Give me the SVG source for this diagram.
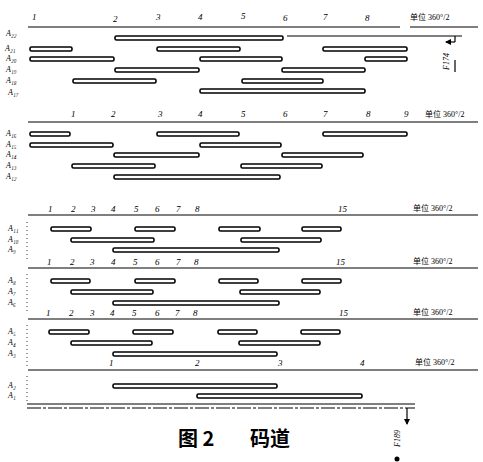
<svg xmlns="http://www.w3.org/2000/svg" width="483" height="462" viewBox="0 0 483 462">
<defs>
<style>
.bar{fill:#fff;stroke:#000;stroke-width:1.6}
.ax{stroke:#000;stroke-width:1.2;fill:none}
.dl{stroke:#000;stroke-width:0.8;stroke-dasharray:1 3;fill:none}
.t{font-family:"Liberation Serif","Noto Sans CJK SC",serif;font-style:italic;font-size:9px;fill:#000}
.lb{font-family:"Liberation Serif","Noto Sans CJK SC",serif;font-style:italic;font-size:8px;fill:#000}
.u{font-family:"Liberation Serif","Noto Sans CJK SC",serif;font-size:8px;fill:#000}
.cap{font-family:"Noto Sans CJK SC",sans-serif;font-weight:bold;font-size:20px;fill:#000}
</style>
<marker id="ah" viewBox="0 0 6 6" refX="5" refY="3" markerWidth="5" markerHeight="5" orient="auto"><path d="M0,0L6,3L0,6z" fill="#000"/></marker>
</defs>
<rect width="483" height="462" fill="#fff"/>
<g id="connectors">
<line class="ax" x1="28" y1="27" x2="400" y2="27"/>
<line class="ax" x1="410" y1="27" x2="478" y2="27" stroke-width="0.8"/>
<line class="ax" x1="287" y1="36" x2="462" y2="36" stroke-width="0.8"/>
<line class="ax" x1="455" y1="36" x2="455" y2="42"/>
<line class="ax" x1="455" y1="42" x2="446" y2="42" marker-end="url(#ah)"/>
<line class="ax" x1="455" y1="60" x2="455" y2="72" stroke-width="0.8"/>
<line class="ax" x1="28" y1="122" x2="478" y2="122"/>
<line class="ax" x1="28" y1="215" x2="478" y2="215"/>
<line class="ax" x1="28" y1="268" x2="478" y2="268"/>
<line class="ax" x1="28" y1="319" x2="478" y2="319"/>
<line class="ax" x1="28" y1="370" x2="478" y2="370"/>
<line class="ax" x1="27" y1="404" x2="415" y2="404"/>
<line class="ax" x1="27" y1="408" x2="415" y2="408" stroke-dasharray="14 2 3 2"/>
<line class="ax" x1="407" y1="408" x2="407" y2="424" marker-end="url(#ah)"/>
<line class="dl" x1="27" y1="222" x2="27" y2="262"/>
<line class="dl" x1="27" y1="274" x2="27" y2="314"/>
<line class="dl" x1="27" y1="325" x2="27" y2="366"/>
<line class="dl" x1="27" y1="376" x2="27" y2="402"/>
<circle cx="397" cy="459" r="2.5" fill="#000"/>
</g>
<g id="section1">
<text class="t" x="32" y="20">1</text><text class="t" x="113" y="22">2</text><text class="t" x="156" y="20">3</text><text class="t" x="198" y="20">4</text><text class="t" x="241" y="19">5</text><text class="t" x="283" y="21">6</text><text class="t" x="323" y="20">7</text><text class="t" x="365" y="21">8</text>
<text class="u" x="410" y="20">单位 360°/2</text>
<text class="lb" x="6" y="36">A₂₂</text><text class="lb" x="5" y="51">A₂₁</text><text class="lb" x="6" y="61">A₂₀</text><text class="lb" x="6" y="72">A₁₉</text><text class="lb" x="6" y="83">A₁₈</text><text class="lb" x="8" y="95">A₁₇</text>
<rect class="bar" x="115" y="36" width="168" height="4" rx="1.5"/>
<rect class="bar" x="30" y="47" width="42" height="4" rx="1.5"/><rect class="bar" x="157" y="47" width="83" height="4" rx="1.5"/><rect class="bar" x="323" y="47" width="84" height="4" rx="1.5"/>
<rect class="bar" x="30" y="57" width="84" height="4" rx="1.5"/><rect class="bar" x="200" y="57" width="82" height="4" rx="1.5"/><rect class="bar" x="365" y="57" width="42" height="4" rx="1.5"/>
<rect class="bar" x="115" y="68" width="84" height="4" rx="1.5"/><rect class="bar" x="282" y="68" width="83" height="4" rx="1.5"/>
<rect class="bar" x="73" y="79" width="83" height="4" rx="1.5"/><rect class="bar" x="242" y="79" width="81" height="4" rx="1.5"/>
<rect class="bar" x="200" y="89" width="165" height="4" rx="1.5"/>
<text class="lb" transform="translate(449,70) rotate(-90)">F174</text>
</g>
<g id="section2">
<text class="t" x="71" y="117">1</text><text class="t" x="111" y="117">2</text><text class="t" x="158" y="117">3</text><text class="t" x="198" y="117">4</text><text class="t" x="241" y="117">5</text><text class="t" x="283" y="117">6</text><text class="t" x="323" y="117">7</text><text class="t" x="366" y="117">8</text><text class="t" x="404" y="117">9</text>
<text class="u" x="425" y="117">单位 360°/2</text>
<text class="lb" x="6" y="136">A₁₆</text><text class="lb" x="6" y="147">A₁₅</text><text class="lb" x="6" y="157">A₁₄</text><text class="lb" x="6" y="168">A₁₃</text><text class="lb" x="6" y="179">A₁₂</text>
<rect class="bar" x="30" y="132" width="40" height="4" rx="1.5"/><rect class="bar" x="157" y="132" width="82" height="4" rx="1.5"/><rect class="bar" x="323" y="132" width="84" height="4" rx="1.5"/>
<rect class="bar" x="30" y="143" width="83" height="4" rx="1.5"/><rect class="bar" x="200" y="143" width="81" height="4" rx="1.5"/>
<rect class="bar" x="114" y="153" width="85" height="4" rx="1.5"/><rect class="bar" x="282" y="153" width="81" height="4" rx="1.5"/>
<rect class="bar" x="72" y="164" width="83" height="4" rx="1.5"/><rect class="bar" x="241" y="164" width="81" height="4" rx="1.5"/>
<rect class="bar" x="114" y="175" width="166" height="4" rx="1.5"/>
</g>
<g id="section3">
<text class="t" x="48" y="212">1</text><text class="t" x="71" y="212">2</text><text class="t" x="91" y="212">3</text><text class="t" x="111" y="212">4</text><text class="t" x="134" y="212">5</text><text class="t" x="155" y="212">6</text><text class="t" x="176" y="212">7</text><text class="t" x="195" y="212">8</text><text class="t" x="338" y="212">15</text>
<text class="u" x="413" y="211">单位 360°/2</text>
<text class="lb" x="8" y="231">A₁₁</text><text class="lb" x="8" y="242">A₁₀</text><text class="lb" x="8" y="252">A₉</text>
<rect class="bar" x="51" y="227" width="40" height="4" rx="1.5"/><rect class="bar" x="135" y="227" width="40" height="4" rx="1.5"/><rect class="bar" x="219" y="227" width="41" height="4" rx="1.5"/><rect class="bar" x="302" y="227" width="39" height="4" rx="1.5"/>
<rect class="bar" x="71" y="238" width="83" height="4" rx="1.5"/><rect class="bar" x="241" y="238" width="80" height="4" rx="1.5"/>
<rect class="bar" x="113" y="248" width="166" height="4" rx="1.5"/>
</g>
<g id="section4">
<text class="t" x="47" y="265">1</text><text class="t" x="70" y="265">2</text><text class="t" x="90" y="265">3</text><text class="t" x="111" y="265">4</text><text class="t" x="133" y="265">5</text><text class="t" x="155" y="265">6</text><text class="t" x="176" y="265">7</text><text class="t" x="194" y="265">8</text><text class="t" x="336" y="265">15</text>
<text class="u" x="413" y="264">单位 360°/2</text>
<text class="lb" x="8" y="283">A₈</text><text class="lb" x="8" y="294">A₇</text><text class="lb" x="8" y="305">A₆</text>
<rect class="bar" x="51" y="279" width="39" height="4" rx="1.5"/><rect class="bar" x="135" y="279" width="40" height="4" rx="1.5"/><rect class="bar" x="219" y="279" width="39" height="4" rx="1.5"/><rect class="bar" x="302" y="279" width="39" height="4" rx="1.5"/>
<rect class="bar" x="71" y="290" width="82" height="4" rx="1.5"/><rect class="bar" x="240" y="290" width="80" height="4" rx="1.5"/>
<rect class="bar" x="113" y="301" width="166" height="4" rx="1.5"/>
</g>
<g id="section5">
<text class="t" x="46" y="316">1</text><text class="t" x="69" y="316">2</text><text class="t" x="90" y="316">3</text><text class="t" x="110" y="316">4</text><text class="t" x="132" y="316">5</text><text class="t" x="155" y="316">6</text><text class="t" x="175" y="316">7</text><text class="t" x="193" y="316">8</text><text class="t" x="339" y="316">15</text>
<text class="u" x="413" y="315">单位 360°/2</text>
<text class="lb" x="8" y="334">A₅</text><text class="lb" x="8" y="345">A₄</text><text class="lb" x="8" y="356">A₃</text>
<rect class="bar" x="49" y="330" width="40" height="4" rx="1.5"/><rect class="bar" x="133" y="330" width="40" height="4" rx="1.5"/><rect class="bar" x="218" y="330" width="39" height="4" rx="1.5"/><rect class="bar" x="301" y="330" width="39" height="4" rx="1.5"/>
<rect class="bar" x="71" y="341" width="81" height="4" rx="1.5"/><rect class="bar" x="239" y="341" width="81" height="4" rx="1.5"/>
<rect class="bar" x="113" y="352" width="164" height="4" rx="1.5"/>
</g>
<g id="section6">
<text class="t" x="109" y="366">1</text><text class="t" x="195" y="366">2</text><text class="t" x="278" y="366">3</text><text class="t" x="360" y="366">4</text>
<text class="u" x="415" y="365">单位 360°/2</text>
<text class="lb" x="8" y="388">A₂</text><text class="lb" x="8" y="398">A₁</text>
<rect class="bar" x="113" y="384" width="164" height="4" rx="1.5"/>
<rect class="bar" x="197" y="394" width="165" height="4" rx="1.5"/>
<text class="lb" transform="translate(400,447) rotate(-90)">F189</text>
</g>
<g id="caption">
<text class="cap" x="178" y="446">图 2</text>
<text class="cap" x="250" y="446">码道</text>
</g>
</svg>
